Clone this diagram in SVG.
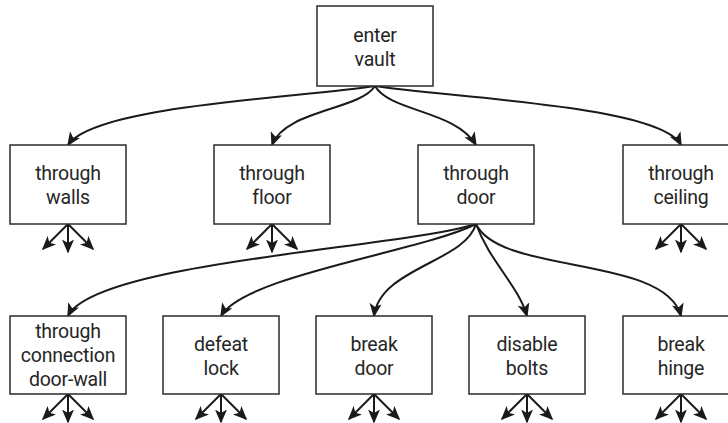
<svg xmlns="http://www.w3.org/2000/svg" xmlns:xlink="http://www.w3.org/1999/xlink" width="728" height="423" viewBox="0 0 728 423">
  <style>
    .box { fill: #ffffff; stroke: #2b2b2b; stroke-width: 1.5; }
    .label { font-family: Roboto, "Liberation Sans", sans-serif; font-size: 19.5px; fill: #262626; text-anchor: middle; letter-spacing: -0.2px; }
    .edge { fill: none; stroke: #1a1a1a; stroke-width: 2; marker-end: url(#head); }
  </style>
  <defs>
    <marker id="head" markerUnits="userSpaceOnUse" markerWidth="15" markerHeight="13" refX="12.5" refY="6" orient="auto">
      <path d="M0,0 L14,6 L0,12 L3.5,6 z" fill="#1a1a1a"/>
    </marker>
    <!-- three short outgoing arrows below a box -->
    <g id="fan">
      <line class="edge" x1="0" y1="0" x2="-25" y2="25"/>
      <line class="edge" x1="0" y1="0" x2="0" y2="28"/>
      <line class="edge" x1="0" y1="0" x2="25" y2="25"/>
    </g>
  </defs>

  <rect width="728" height="423" fill="#ffffff"/>

  <!-- connectors -->
  <g id="connectors">
    <path class="edge" d="M375,86 C300,98 95,105 68,145"/>
    <path class="edge" d="M375,86 C360,110 285,110 272,145"/>
    <path class="edge" d="M375,86 C390,112 455,110 476,145"/>
    <path class="edge" d="M375,86 C450,98 660,105 681,145"/>

    <path class="edge" d="M476,224 C400,248 95,262 68,316"/>
    <path class="edge" d="M476,224 C420,252 245,275 221,316"/>
    <path class="edge" d="M476,224 C465,262 380,268 374,316"/>
    <path class="edge" d="M476,224 C490,262 518,285 527,316"/>
    <path class="edge" d="M476,224 C500,275 665,255 681,316"/>

    <use xlink:href="#fan" x="68" y="224"/>
    <use xlink:href="#fan" x="272" y="224"/>
    <use xlink:href="#fan" x="681" y="224"/>
    <use xlink:href="#fan" x="68" y="394"/>
    <use xlink:href="#fan" x="221" y="394"/>
    <use xlink:href="#fan" x="374" y="394"/>
    <use xlink:href="#fan" x="527" y="394"/>
    <use xlink:href="#fan" x="681" y="394"/>
  </g>

  <g id="enter-vault">
    <rect class="box" x="317" y="6" width="116" height="80"/>
    <text class="label" x="375" y="42">enter</text>
    <text class="label" x="375" y="66">vault</text>
  </g>

  <g id="through-walls">
    <rect class="box" x="10" y="145" width="116" height="79"/>
    <text class="label" x="68" y="180">through</text>
    <text class="label" x="68" y="204">walls</text>
  </g>
  <g id="through-floor">
    <rect class="box" x="214" y="145" width="116" height="79"/>
    <text class="label" x="272" y="180">through</text>
    <text class="label" x="272" y="204">floor</text>
  </g>
  <g id="through-door">
    <rect class="box" x="418" y="145" width="116" height="79"/>
    <text class="label" x="476" y="180">through</text>
    <text class="label" x="476" y="204">door</text>
  </g>
  <g id="through-ceiling">
    <rect class="box" x="623" y="145" width="116" height="79"/>
    <text class="label" x="681" y="180">through</text>
    <text class="label" x="681" y="204">ceiling</text>
  </g>

  <g id="through-connection">
    <rect class="box" x="10" y="316" width="116" height="78"/>
    <text class="label" x="68" y="338">through</text>
    <text class="label" x="68" y="362">connection</text>
    <text class="label" x="68" y="386">door-wall</text>
  </g>
  <g id="defeat-lock">
    <rect class="box" x="163" y="316" width="116" height="78"/>
    <text class="label" x="221" y="351">defeat</text>
    <text class="label" x="221" y="375">lock</text>
  </g>
  <g id="break-door">
    <rect class="box" x="316" y="316" width="116" height="78"/>
    <text class="label" x="374" y="351">break</text>
    <text class="label" x="374" y="375">door</text>
  </g>
  <g id="disable-bolts">
    <rect class="box" x="469" y="316" width="116" height="78"/>
    <text class="label" x="527" y="351">disable</text>
    <text class="label" x="527" y="375">bolts</text>
  </g>
  <g id="break-hinge">
    <rect class="box" x="623" y="316" width="116" height="78"/>
    <text class="label" x="681" y="351">break</text>
    <text class="label" x="681" y="375">hinge</text>
  </g>
</svg>
